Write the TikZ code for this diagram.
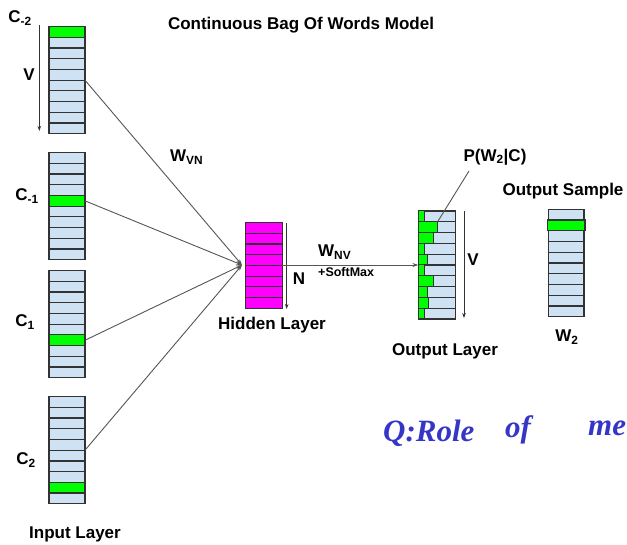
\documentclass[tikz,border=0pt]{standalone}
\usepackage{fontspec}
\setmainfont{Liberation Sans}
\newfontfamily\handfont{Liberation Serif}
\usetikzlibrary{arrows.meta}
\definecolor{cellblue}{HTML}{CFE2F3}
\definecolor{vgreen}{HTML}{00FF00}
\definecolor{magen}{HTML}{FF00FF}
\definecolor{edgec}{HTML}{333333}
\definecolor{wire}{HTML}{555555}
\definecolor{ink}{HTML}{3535C8}
\begin{document}
\begin{tikzpicture}[x=1pt,y=-1pt,
  cell/.style={draw=edgec, line width=1.2pt, fill=cellblue, minimum height=10.7pt, inner sep=0pt, outer sep=0pt, anchor=north west},
  incell/.style={cell, minimum width=36pt},
  hidcell/.style={cell, fill=magen, minimum width=36.6pt},
  outcell/.style={cell, minimum width=37.4pt, minimum height=10.8pt},
  samcell/.style={cell, minimum width=35.7pt, minimum height=10.75pt},
  bar/.style={draw=edgec, line width=1pt, fill=vgreen, minimum height=10.8pt, inner sep=0pt, outer sep=0pt, anchor=north west},
  lbl/.style={font=\bfseries\fontsize{17}{20}\selectfont, inner sep=0pt},
  small/.style={font=\bfseries\fontsize{12.5}{14}\selectfont, inner sep=0pt},
  hand/.style={font=\handfont\bfseries\itshape\fontsize{31}{34}\selectfont, text=ink, inner sep=0pt},
  wireline/.style={draw=wire, line width=0.9pt},
  dimarrow/.style={draw=black!80, line width=0.8pt, -{Stealth[length=5pt,width=3.5pt]}},
  conn/.style={wireline, -{Stealth[length=6pt,width=4pt]}}
]
\useasboundingbox (0,0) rectangle (627,545);

% title
\node[lbl] (title) at (301,25) {Continuous Bag Of Words Model};

% input columns
\foreach \n/\t/\g in {1/26.7/0, 2/152.7/4, 3/270.7/6, 4/396.7/8} {
  \foreach \i in {0,...,9} {
    \node[incell] (a\n-\i) at (49,\t+\i*10.7) {};
  }
  \node[incell, fill=vgreen] (a\n-\g) at (49,\t+\g*10.7) {};
}

% input labels
\node[lbl] (lc1) at (20,18) {C\textsubscript{-2}};
\node[lbl] (lc2) at (27,196) {C\textsubscript{-1}};
\node[lbl] (lc3) at (25,322) {C\textsubscript{1}};
\node[lbl] (lc4) at (26,460) {C\textsubscript{2}};
\node[lbl] (inl) at (75,534) {Input Layer};

% V arrow on first column
\coordinate (v1s) at (39.3,25);
\coordinate (v1e) at (39.3,131);
\draw[dimarrow] (v1s) -- (v1e);
\node[lbl] (lv1) at (29,75) {V};

% hidden layer
\foreach \i in {0,...,7} {
  \node[hidcell] (h-\i) at (245.7,222.7+\i*10.7) {};
}
\coordinate (hub) at (242,265);
\coordinate (hidout) at (282.3,265);
\coordinate (ns) at (286.7,222.7);
\coordinate (ne) at (286.7,309);
\draw[dimarrow] (ns) -- (ne);
\node[lbl] (ln) at (299,279) {N};
\node[lbl] (hidl) at (272,325) {Hidden Layer};

% connectors input -> hidden
\draw[conn] (a1-4.south east) -- (hub);
\draw[conn] (a2-4.east) -- (hub);
\draw[conn] (a3-6.east) -- (hub);
\draw[conn] (a4-4.south east) -- (hub);
\node[lbl, anchor=west] (wvn) at (170,157) {W\textsubscript{VN}};

% output layer
\foreach \i in {0,...,9} {
  \node[outcell] (o-\i) at (418.3,211+\i*10.8) {};
}
\foreach \i/\w in {0/6,1/19.3,2/15,3/6,4/9,5/6,6/15,7/9,8/10,9/6} {
  \node[bar, minimum width=\w pt] (g-\i) at (418.3,211+\i*10.8) {};
}
\coordinate (outin) at (418.3,265);
\draw[conn] (hidout) -- (outin);
\node[lbl, anchor=west] (wnv) at (318,252) {W\textsubscript{NV}};
\node[small, anchor=west] (sm) at (318,272) {+SoftMax};
\coordinate (vos) at (464,211);
\coordinate (voe) at (464,318);
\draw[dimarrow] (vos) -- (voe);
\node[lbl] (lv2) at (473,260) {V};
\node[lbl] (outl) at (445,351) {Output Layer};
\node[lbl] (pl) at (495,157) {P(W\textsubscript{2}|C)};
\coordinate (pp) at (469,171);
\draw[wireline] (pp) -- (g-1.north east);

% output sample
\foreach \i in {0,...,9} {
  \node[samcell] (s-\i) at (548.3,209.3+\i*10.75) {};
}
\node[samcell, fill=vgreen, minimum width=37.5pt] (s-1) at (547.4,209.3+10.75) {};
\node[lbl] (samp) at (563,191) {Output Sample};
\node[lbl] (w2) at (567,337) {W\textsubscript{2}};

% handwritten note
\node[hand, anchor=west] (q1) at (383,433) {Q:Role};
\node[hand, anchor=west] (q2) at (505,430) {of};
\node[hand, anchor=west] (q3) at (588,428) {me};
\end{tikzpicture}
\end{document}
